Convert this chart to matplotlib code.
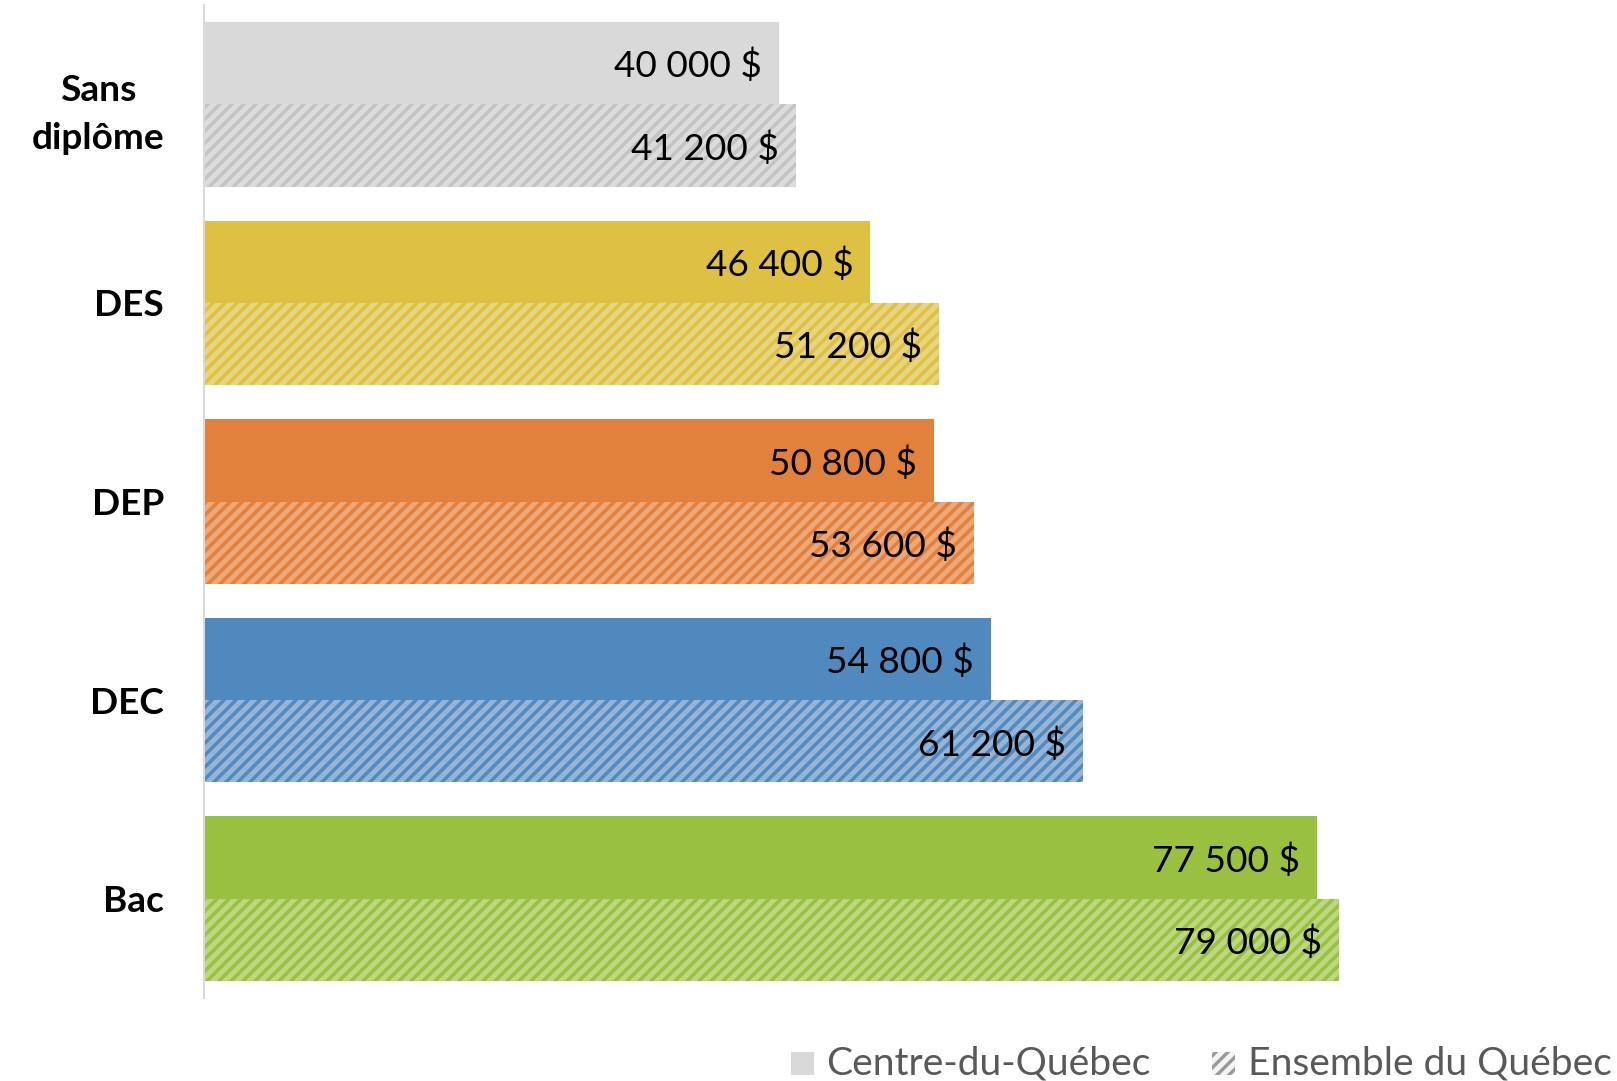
import matplotlib
matplotlib.use("Agg")
import matplotlib.pyplot as plt
from matplotlib.patches import Rectangle

plt.rcParams['font.family'] = ['Lato', 'DejaVu Sans']
plt.rcParams['hatch.linewidth'] = 3.4

categories = ["Sans\ndiplôme", "DES", "DEP", "DEC", "Bac"]
centre_du_quebec = [40000, 46400, 50800, 54800, 77500]
ensemble_quebec = [41200, 51200, 53600, 61200, 79000]
series_names = ["Centre-du-Québec", "Ensemble du Québec"]

solid_colors = ["#D9D9D9", "#DEC143", "#E2813B", "#4F89BE", "#9AC03F"]
hatch_bg = ["#DCDCDC", "#E9D47E", "#EEA877", "#95B4D6", "#BDD77F"]
hatch_fg = ["#C3C3C3", "#DEC143", "#E2813B", "#4F89BE", "#9AC03F"]

DPI = 72
fig = plt.figure(figsize=(1617 / DPI, 1081 / DPI), dpi=DPI)
W, H = 1617, 1081
ax_left = 204.2
ax = fig.add_axes([ax_left / W, (H - 998) / H, (W - ax_left) / W, 993 / H])

bh = 0.4145
ys = list(range(len(categories)))
for i, y in enumerate(ys):
    ax.barh(y - bh / 2, centre_du_quebec[i], height=bh, color=solid_colors[i],
            linewidth=0)
    ax.barh(y + bh / 2, ensemble_quebec[i], height=bh, facecolor=hatch_bg[i],
            edgecolor=hatch_fg[i], hatch='//', linewidth=0)
    ax.annotate(f"{centre_du_quebec[i]:,} $".replace(",", " "),
                (centre_du_quebec[i], y - bh / 2), xytext=(-17, -3),
                textcoords='offset points', ha='right', va='center',
                fontsize=37, color='#000000')
    ax.annotate(f"{ensemble_quebec[i]:,} $".replace(",", " "),
                (ensemble_quebec[i], y + bh / 2), xytext=(-17, -3),
                textcoords='offset points', ha='right', va='center',
                fontsize=37, color='#000000')

ax.set_xlim(0, (W - ax_left) / 0.014359)
ax.set_ylim(4.5, -0.5)
ax.set_yticks(ys)
ax.set_yticklabels(categories, fontsize=37, fontweight='bold', linespacing=1.55)
ax.tick_params(axis='y', length=0, pad=40)
ax.set_xticks([])
for s in ['top', 'right', 'bottom']:
    ax.spines[s].set_visible(False)
ax.spines['left'].set_color('#D9D9D9')
ax.spines['left'].set_linewidth(2)
for lab in ax.get_yticklabels():
    lab.set_multialignment('center')

# legend
sw = 23
fig.patches.append(Rectangle((791 / W, (H - 1075) / H), sw / W, sw / H,
                             transform=fig.transFigure, facecolor=solid_colors[0],
                             linewidth=0))
fig.text(826 / W, (H - 1064) / H, series_names[0], fontsize=39, color='#595959',
         ha='left', va='center')
fig.patches.append(Rectangle((1212 / W, (H - 1075) / H), sw / W, sw / H,
                             transform=fig.transFigure, facecolor='#F4F4F4',
                             edgecolor='#9A9A9A', hatch='//', linewidth=0))
fig.text(1248 / W, (H - 1064) / H, series_names[1], fontsize=39, color='#595959',
         ha='left', va='center')

fig.savefig("out.png", dpi=DPI, facecolor='white')
